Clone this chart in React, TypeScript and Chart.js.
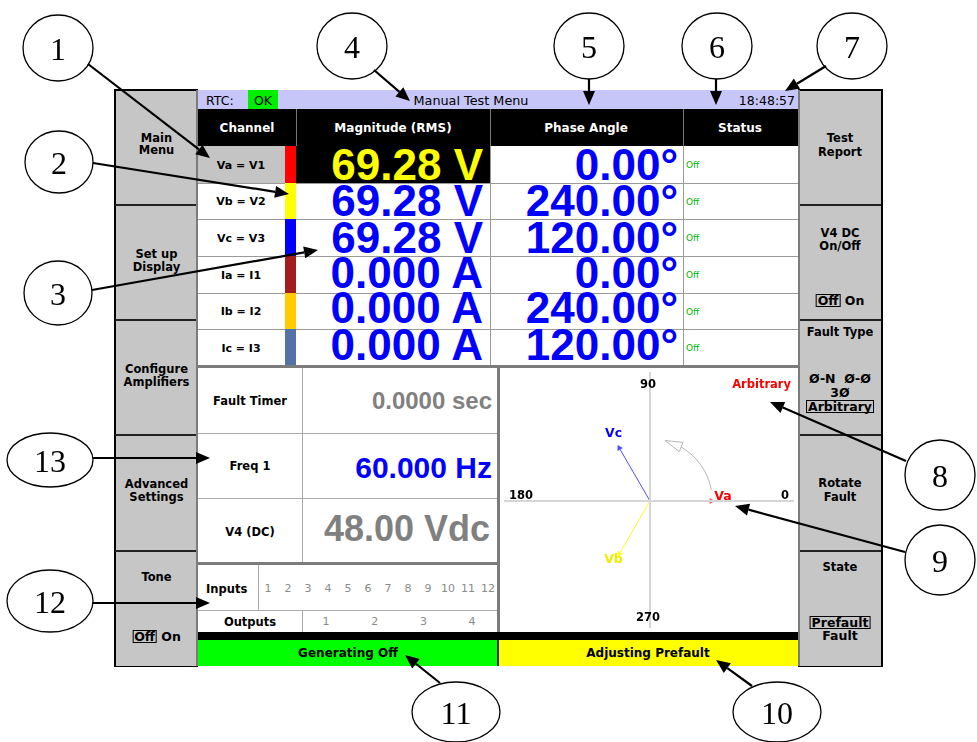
import React, { useEffect, useRef } from "react";
import { Chart, registerables } from "chart.js";
Chart.register(...registerables);

// ---------------- data ----------------
const channelNames = ["Va = V1", "Vb = V2", "Vc = V3", "Ia = I1", "Ib = I2", "Ic = I3"];
const magnitudeValues = [69.28, 69.28, 69.28, 0, 0, 0];
const magnitudeUnits = ["V", "V", "V", "A", "A", "A"];
const magnitudeDecimals = [2, 2, 2, 3, 3, 3];
const phaseAngles = [0, 240, 120, 0, 240, 120];
const channelStatus = ["Off", "Off", "Off", "Off", "Off", "Off"];
const channelColors = ["#ff0000", "#ffff00", "#0000ff", "#a31d1d", "#ffcc00", "#5272a8"];
const tableHeaders = ["Channel", "Magnitude (RMS)", "Phase Angle", "Status"];

const phasorNames = ["Va", "Vb", "Vc"];
const phasorMagnitudes = [69.28, 69.28, 69.28];
const phasorAngles = [0, 240, 120];
const phasorLineColors = ["#ff4d4d", "#ffff22", "#4d4dff"];
const phasorTextColors = ["#ff0000", "#eeee00", "#0000ff"];
const axisAngleLabels = ["0", "90", "180", "270"];
const faultTypeName = "Arbitrary";

const inputNumbers = ["1", "2", "3", "4", "5", "6", "7", "8", "9", "10", "11", "12"];
const outputNumbers = ["1", "2", "3", "4"];

const faultTimerText = "0.0000 sec";
const freqText = "60.000 Hz";
const v4Text = "48.00 Vdc";
const clockText = "18:48:57";
const menuTitle = "Manual Test Menu";

const calloutNumbers = ["1", "2", "3", "4", "5", "6", "7", "8", "9", "10", "11", "12", "13"];

// ---------------- layout ----------------
const ROW_BOTTOMS = [183, 219, 256, 293, 329, 366];
const ROW_TOPS = [146, 183, 219, 256, 293, 329];
const BASE_OFF = [3, 2.5, 3, 4.5, 5.5, 5.5];
const BTN_Y = [90, 205, 320, 435, 551, 666];

const CALLOUT_GEOM = [
  { cx: 58, cy: 48, rx: 35, ry: 33, x1: 88, y1: 64, x2: 210, y2: 158 },
  { cx: 59, cy: 162, rx: 34, ry: 31, x1: 93, y1: 163, x2: 289, y2: 194 },
  { cx: 58, cy: 293, rx: 34, ry: 32, x1: 92, y1: 290, x2: 318, y2: 250 },
  { cx: 352, cy: 46, rx: 35, ry: 33, x1: 374, y1: 70, x2: 410, y2: 101 },
  { cx: 589, cy: 46, rx: 35, ry: 33, x1: 589, y1: 79, x2: 589, y2: 105 },
  { cx: 717, cy: 46, rx: 35, ry: 33, x1: 716, y1: 79, x2: 716, y2: 105 },
  { cx: 852, cy: 46, rx: 35, ry: 33, x1: 826, y1: 66, x2: 785, y2: 91 },
  { cx: 940, cy: 475, rx: 35, ry: 35, x1: 906, y1: 461, x2: 770, y2: 402 },
  { cx: 940, cy: 560, rx: 35, ry: 35, x1: 905, y1: 552, x2: 735, y2: 506 },
  { cx: 777, cy: 712, rx: 44, ry: 30, x1: 752, y1: 686, x2: 716, y2: 660 },
  { cx: 456, cy: 712, rx: 44, ry: 30, x1: 440, y1: 683, x2: 405, y2: 655 },
  { cx: 50, cy: 601, rx: 43, ry: 31, x1: 93, y1: 603, x2: 210, y2: 603 },
  { cx: 50, cy: 460, rx: 43, ry: 27, x1: 93, y1: 458, x2: 210, y2: 458 },
];

const UI = '"DejaVu Sans", sans-serif';
const BIG = '"Liberation Sans", Arial, sans-serif';

type TP = {
  x: number; y: number; children: any; size?: number; weight?: any; color?: string;
  family?: string; align?: "center" | "left" | "right"; lh?: number;
};
function T({ x, y, children, size = 11.5, weight = "bold", color = "#000", family = UI, align = "center", lh }: TP) {
  const h = lh ?? Math.round(size * 1.05);
  const s: any = {
    position: "absolute", top: y - h / 2, height: h, lineHeight: h + "px", fontSize: size,
    fontWeight: weight, color, fontFamily: family, whiteSpace: "nowrap",
  };
  if (align === "center") { s.left = x; s.transform = "translateX(-50%)"; }
  else if (align === "left") s.left = x;
  else s.right = 977 - x;
  return <div style={s}>{children}</div>;
}
// big numeric text placed by its baseline; line box kept inside the row
function Big({ x, base, size, color, children }: { x: number; base: number; size: number; color: string; children: any }) {
  const lh = Math.round(size * 0.78);
  const baseFromTop = (lh - size * 1.117) / 2 + size * 0.905;
  return (
    <div style={{
      position: "absolute", right: 977 - x, top: base - baseFromTop, height: lh, lineHeight: lh + "px",
      fontSize: size, fontWeight: "bold", color, fontFamily: BIG, whiteSpace: "nowrap",
    }}>{children}</div>
  );
}
function R({ x, y, w, h, bg }: { x: number; y: number; w: number; h: number; bg: string }) {
  return <div style={{ position: "absolute", left: x, top: y, width: w, height: h, background: bg }} />;
}
function Box({ children }: { children: any }) {
  return <span style={{ border: "1.5px solid #000", padding: "0 1px", lineHeight: "11px", display: "inline-block" }}>{children}</span>;
}

// ---------------- phasor chart ----------------
const K = 69.28 / 63; // units per pixel
function PhasorChart() {
  const ref = useRef<HTMLCanvasElement>(null);
  useEffect(() => {
    const canvas = ref.current!;
    const datasets: any[] = [
      { data: [{ x: -200, y: 0 }, { x: 200, y: 0 }], showLine: true, borderColor: "#d6d6d6", borderWidth: 2, pointRadius: 0 },
      { data: [{ x: 0, y: -200 }, { x: 0, y: 200 }], showLine: true, borderColor: "#d6d6d6", borderWidth: 2, pointRadius: 0 },
    ];
    phasorNames.forEach((n, i) => {
      const a = (phasorAngles[i] * Math.PI) / 180;
      const m = phasorMagnitudes[i];
      datasets.push({
        label: n,
        data: [{ x: 0, y: 0 }, { x: m * Math.cos(a), y: m * Math.sin(a) }],
        showLine: true,
        borderColor: phasorLineColors[i],
        backgroundColor: phasorLineColors[i],
        borderWidth: i === 0 ? 1.5 : 1,
        pointRadius: [0, 3.5],
        pointStyle: "triangle",
        pointRotation: [0, 90 - phasorAngles[i]],
        pointBorderWidth: 0,
      });
    });
    const labelPlugin = {
      id: "phasorLabels",
      afterDatasetsDraw(chart: any) {
        const { ctx, chartArea: ar, scales } = chart;
        const xs = scales.x, ys = scales.y;
        const x0 = xs.getPixelForValue(0), y0 = ys.getPixelForValue(0);
        ctx.save();
        // rotation arc
        const r = xs.getPixelForValue(phasorMagnitudes[0]) - x0 + 1;
        const a1 = (10 * Math.PI) / 180, a2 = (60 * Math.PI) / 180, a3 = (76 * Math.PI) / 180;
        ctx.strokeStyle = "#b4b4b4";
        ctx.lineWidth = 1;
        ctx.beginPath();
        ctx.arc(x0, y0, r, -a1, -a2, true);
        ctx.stroke();
        const bx = x0 + r * Math.cos(a2), by = y0 - r * Math.sin(a2);
        const tx = x0 + r * Math.cos(a3), ty = y0 - r * Math.sin(a3);
        const dx = tx - bx, dy = ty - by, L = Math.hypot(dx, dy);
        const nx = -dy / L, ny = dx / L;
        ctx.beginPath();
        ctx.moveTo(tx, ty);
        ctx.lineTo(bx + nx * 5, by + ny * 5);
        ctx.lineTo(bx - nx * 5, by - ny * 5);
        ctx.closePath();
        ctx.fillStyle = "#fff";
        ctx.fill();
        ctx.stroke();
        // axis labels
        ctx.font = 'bold 11.5px "DejaVu Sans"';
        ctx.textBaseline = "middle";
        ctx.textAlign = "center";
        ctx.fillStyle = "#000";
        ctx.fillText(axisAngleLabels[1], x0 - 2, ar.top + 13);
        ctx.fillText(axisAngleLabels[3], x0 - 2, ar.bottom - 10);
        ctx.fillText(axisAngleLabels[2], ar.left + 17, y0 - 5);
        ctx.fillText(axisAngleLabels[0], ar.right - 9, y0 - 5);
        ctx.textAlign = "right";
        ctx.fillStyle = "#ff0000";
        ctx.fillText(faultTypeName, ar.right - 3, ar.top + 13);
        // phasor names
        ctx.font = 'bold 12.5px "DejaVu Sans"';
        ctx.textAlign = "center";
        phasorNames.forEach((n, i) => {
          const a = (phasorAngles[i] * Math.PI) / 180;
          const m = phasorMagnitudes[i] * 1.19;
          const px = xs.getPixelForValue(m * Math.cos(a));
          const py = ys.getPixelForValue(m * Math.sin(a)) - 4;
          ctx.fillStyle = phasorTextColors[i];
          ctx.fillText(n, px, py);
        });
        ctx.restore();
      },
    };
    const chart = new Chart(canvas, {
      type: "scatter",
      data: { datasets },
      options: {
        animation: false,
        responsive: true,
        maintainAspectRatio: false,
        layout: { padding: 0 },
        plugins: { legend: { display: false }, tooltip: { enabled: false } },
        scales: {
          x: { type: "linear", min: -150 * K, max: 148 * K, display: false },
          y: { type: "linear", min: -131 * K, max: 133 * K, display: false },
        },
      } as any,
      plugins: [labelPlugin],
    });
    return () => chart.destroy();
  }, []);
  return (
    <div style={{ position: "absolute", left: 500, top: 368, width: 298, height: 264, background: "#fff" }}>
      <canvas ref={ref} />
    </div>
  );
}

// ---------------- callouts ----------------
function Callouts() {
  return (
    <svg width={977} height={742} style={{ position: "absolute", left: 0, top: 0, pointerEvents: "none" }}>
      {CALLOUT_GEOM.map((g, i) => {
        const dx = g.x2 - g.x1, dy = g.y2 - g.y1, L = Math.hypot(dx, dy);
        const ux = dx / L, uy = dy / L;
        const AL = 14, AW = 6;
        const bx = g.x2 - ux * AL, by = g.y2 - uy * AL;
        const pts = `${g.x2},${g.y2} ${bx - uy * AW},${by + ux * AW} ${bx + uy * AW},${by - ux * AW}`;
        return (
          <g key={i}>
            <ellipse cx={g.cx} cy={g.cy} rx={g.rx} ry={g.ry} fill="none" stroke="#000" strokeWidth={1.3} />
            <text x={g.cx} y={g.cy + 12} textAnchor="middle" fontFamily='"Liberation Serif", serif' fontSize={32} fill="#000">
              {calloutNumbers[i]}
            </text>
            <line x1={g.x1} y1={g.y1} x2={bx} y2={by} stroke="#000" strokeWidth={2.2} />
            <polygon points={pts} fill="#000" />
          </g>
        );
      })}
    </svg>
  );
}

// ---------------- app ----------------
export default function App() {
  const fmtMag = (i: number) => magnitudeValues[i].toFixed(magnitudeDecimals[i]) + " " + magnitudeUnits[i];
  const fmtAng = (i: number) => phaseAngles[i].toFixed(2) + "°";
  const els: any[] = [];

  // buttons columns
  els.push(<R key="lb" x={115} y={90} w={83} h={576} bg="#c6c6c6" />);
  els.push(<R key="rb" x={798} y={90} w={84} h={576} bg="#c6c6c6" />);
  els.push(<R key="lbl" x={114} y={90} w={1.5} h={577} bg="#000" />);
  els.push(<R key="lbt" x={114} y={89} w={84} h={1.5} bg="#000" />);
  els.push(<R key="lbb" x={114} y={665.5} w={84} h={1.5} bg="#000" />);
  els.push(<R key="lbr" x={196} y={90} w={2} h={576} bg="#7c7c7c" />);
  els.push(<R key="rbr" x={881} y={89} w={1.5} h={578} bg="#000" />);
  els.push(<R key="rbt" x={798} y={89} w={84} h={1.5} bg="#000" />);
  els.push(<R key="rbb" x={798} y={665.5} w={84} h={1.5} bg="#000" />);
  els.push(<R key="rbl" x={798} y={90} w={2} h={576} bg="#7c7c7c" />);
  for (let k = 1; k < 5; k++) {
    els.push(<R key={"ls" + k} x={115} y={BTN_Y[k] - 1} w={81} h={2} bg="#222" />);
    els.push(<R key={"rs" + k} x={800} y={BTN_Y[k] - 1} w={81} h={2} bg="#222" />);
  }
  // left button texts
  const L = 156.5, RR = 840;
  els.push(<T key="b1a" x={L} y={138}>Main</T>, <T key="b1b" x={L} y={150}>Menu</T>);
  els.push(<T key="b2a" x={L} y={254}>Set up</T>, <T key="b2b" x={L} y={267}>Display</T>);
  els.push(<T key="b3a" x={L} y={369}>Configure</T>, <T key="b3b" x={L} y={382}>Amplifiers</T>);
  els.push(<T key="b4a" x={L} y={484}>Advanced</T>, <T key="b4b" x={L} y={497}>Settings</T>);
  els.push(<T key="b5a" x={L} y={577}>Tone</T>);
  els.push(<T key="b5b" x={L} y={636} size={12.5}><Box>Off</Box> On</T>);
  // right button texts
  els.push(<T key="r1a" x={RR} y={138}>Test</T>, <T key="r1b" x={RR} y={152}>Report</T>);
  els.push(<T key="r2a" x={RR} y={233}>V4 DC</T>, <T key="r2b" x={RR} y={246}>On/Off</T>);
  els.push(<T key="r2c" x={RR} y={300} size={12.5}><Box>Off</Box> On</T>);
  els.push(<T key="r3a" x={RR} y={332}>Fault Type</T>);
  els.push(<T key="r3b" x={RR} y={378} size={12.5} lh={13}>Ø-N&nbsp;&nbsp;Ø-Ø</T>);
  els.push(<T key="r3c" x={RR} y={392} size={12.5} lh={13}>3Ø</T>);
  els.push(<T key="r3d" x={RR} y={406} size={12.5} lh={13}><Box>{faultTypeName}</Box></T>);
  els.push(<T key="r4a" x={RR} y={483}>Rotate</T>, <T key="r4b" x={RR} y={497}>Fault</T>);
  els.push(<T key="r5a" x={RR} y={567}>State</T>);
  els.push(<T key="r5c" x={RR} y={635.5} size={12.5} lh={12}>Fault</T>);
  els.push(<T key="r5b" x={RR} y={622} size={12.5} lh={13}><span style={{ background: "#c6c6c6" }}><Box>Prefault</Box></span></T>);

  // top bar
  els.push(<R key="tb" x={198} y={90} w={600} h={19} bg="#c6c6f8" />);
  els.push(<R key="ok" x={248} y={90} w={30} h={19} bg="#00ee00" />);
  els.push(<T key="rtc" x={206} y={100} align="left" weight="normal" size={12.5}>RTC:</T>);
  els.push(<T key="okt" x={263} y={100} weight="normal" size={12.5}>OK</T>);
  els.push(<T key="mt" x={471} y={100} weight="normal" size={12.8}>{menuTitle}</T>);
  els.push(<T key="clk" x={795} y={100} align="right" weight="normal" size={12.5}>{clockText}</T>);

  // header
  els.push(<R key="hd" x={198} y={109} w={600} h={37} bg="#000" />);
  [296, 490, 683].forEach((x, k) => els.push(<R key={"hv" + k} x={x} y={109} w={1} h={37} bg="#777" />));
  const headX = [247, 393, 586, 740];
  tableHeaders.forEach((h, k) => els.push(<T key={"h" + k} x={headX[k]} y={128} color="#fff" size={12}>{h}</T>));

  // table rows
  els.push(<R key="tbg" x={198} y={146} w={600} h={220} bg="#fff" />);
  channelNames.forEach((name, i) => {
    const top = ROW_TOPS[i], bot = ROW_BOTTOMS[i], h = bot - top;
    if (i === 0) {
      els.push(<R key={"lg" + i} x={198} y={top} w={87} h={h} bg="#c4c4c4" />);
      els.push(<R key={"mb" + i} x={296} y={top} w={194} h={h} bg="#000" />);
    }
    els.push(<R key={"cb" + i} x={285} y={top} w={11} h={h} bg={channelColors[i]} />);
    if (i < 5) els.push(<R key={"rl" + i} x={198} y={bot - 0.5} w={600} h={1} bg="#9a9a9a" />);
  });
  els.push(<R key="v490" x={490} y={146} w={1} h={220} bg="#9a9a9a" />);
  els.push(<R key="v683" x={683} y={146} w={1} h={220} bg="#9a9a9a" />);
  channelNames.forEach((name, i) => {
    const top = ROW_TOPS[i], bot = ROW_BOTTOMS[i];
    const mid = (top + bot) / 2;
    const base = bot - BASE_OFF[i];
    els.push(<T key={"cn" + i} x={241} y={mid + 1} weight="bold" size={11}>{name}</T>);
    els.push(<Big key={"mv" + i} x={483} base={base} size={44} color={i === 0 ? "#ffff00" : "#0000ff"}>{fmtMag(i)}</Big>);
    els.push(<Big key={"pv" + i} x={678} base={base} size={44} color="#0000ff">{fmtAng(i)}</Big>);
    els.push(<T key={"st" + i} x={686} y={mid + 1} align="left" size={9} weight="normal" color="#00b400">{channelStatus[i]}</T>);
  });

  // lower left panel
  els.push(<R key="llp" x={198} y={366} w={300} h={266} bg="#fff" />);
  els.push(<R key="hth" x={198} y={365} w={600} h={3} bg="#7c7c7c" />);
  els.push(<R key="vth" x={497} y={366} w={3} h={266} bg="#7c7c7c" />);
  els.push(<R key="h563" x={198} y={562} w={299} h={3} bg="#7c7c7c" />);
  els.push(<R key="v302" x={302} y={368} w={1} h={194} bg="#aaa" />);
  els.push(<R key="h433" x={198} y={433} w={299} h={1} bg="#aaa" />);
  els.push(<R key="h498" x={198} y={498} w={299} h={1} bg="#aaa" />);
  els.push(<R key="v258" x={258} y={565} w={1} h={45} bg="#aaa" />);
  els.push(<R key="h610" x={198} y={610} w={299} h={1} bg="#aaa" />);
  els.push(<R key="v302b" x={302} y={610} w={1} h={22} bg="#aaa" />);
  els.push(<T key="ft" x={250} y={401}>Fault Timer</T>);
  els.push(<T key="fq" x={250} y={466}>Freq 1</T>);
  els.push(<T key="v4" x={250} y={532}>V4 (DC)</T>);
  els.push(<Big key="ftv" x={492} base={409.3} size={24} color="#808080">{faultTimerText}</Big>);
  els.push(<Big key="fqv" x={492} base={478} size={30} color="#0000ff">{freqText}</Big>);
  els.push(<Big key="v4v" x={490} base={541.7} size={36} color="#808080">{v4Text}</Big>);
  els.push(<T key="inp" x={206} y={589} align="left">Inputs</T>);
  inputNumbers.forEach((n, k) => els.push(<T key={"in" + k} x={268 + k * 20} y={589} weight="normal" size={11} color="#8a8a8a">{n}</T>));
  els.push(<T key="outp" x={250} y={622}>Outputs</T>);
  outputNumbers.forEach((n, k) => els.push(<T key={"on" + k} x={326 + k * 48.7} y={622} weight="normal" size={11} color="#8a8a8a">{n}</T>));

  // bottom bars
  els.push(<R key="blk" x={198} y={632} w={600} h={8} bg="#000" />);
  els.push(<R key="grn" x={198} y={640} w={299} h={26} bg="#00ff00" />);
  els.push(<R key="gsep" x={497} y={640} w={2} h={26} bg="#333" />);
  els.push(<R key="yel" x={499} y={640} w={299} h={26} bg="#ffff00" />);
  els.push(<T key="gen" x={348} y={653} size={12}>Generating Off</T>);
  els.push(<T key="adj" x={648} y={653} size={12}>Adjusting Prefault</T>);

  return (
    <div style={{ position: "absolute", left: 0, top: 0, width: 977, height: 742, background: "#fff", overflow: "hidden" }}>
      {els}
      <PhasorChart />
      <Callouts />
    </div>
  );
}
